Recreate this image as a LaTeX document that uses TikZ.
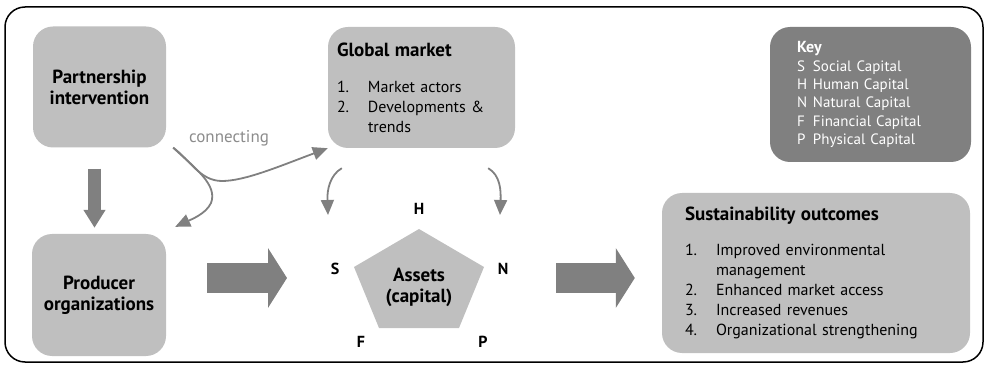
\documentclass[tikz,border=0pt]{standalone}
\usepackage{fontspec}
\setmainfont{PT Sans}
\usetikzlibrary{arrows.meta}

\definecolor{boxgray}{gray}{0.75}
\definecolor{keygray}{gray}{0.5}
\definecolor{arrowgray}{gray}{0.5}
\definecolor{labelgray}{gray}{0.55}

\newcommand{\numitem}[1]{\makebox[31pt][l]{#1}}
\newcommand{\keyitem}[2]{\makebox[16pt][l]{#1}#2}

\begin{document}
\begin{tikzpicture}[x=1pt,y=-1pt,
    box/.style={fill=boxgray,rounded corners=20pt,inner sep=0pt},
    title/.style={font=\bfseries\fontsize{19}{21}\selectfont},
    listbox/.style={box,align=left,font=\fontsize{16}{20}\selectfont},
    capletter/.style={font=\bfseries\fontsize{16}{18}\selectfont},
    bigarrow/.style={draw=arrowgray,line width=30pt,-{Triangle[length=19pt,width=59pt]}},
    flow/.style={draw=arrowgray,line width=1.8pt,-{Triangle[length=15pt,width=13pt]}}]
  \useasboundingbox (0,0) rectangle (988,366);
  \draw[line width=1.5pt,rounded corners=20pt] (5,7) rectangle (983,362);

  % boxes
  \node[box,title,align=center,minimum width=133pt,minimum height=121pt] (part) at (99.5,87) {Partnership\\intervention};
  \node[box,title,align=center,minimum width=134pt,minimum height=122pt] (prod) at (99,295) {Producer\\organizations};
  \node[listbox,minimum width=187pt,minimum height=121pt,text width=169pt,inner xsep=9pt] (gm) at (421.5,87.5)
    {{\bfseries\fontsize{19}{20}\selectfont Global market}\\[16pt]
     \numitem{1.}Market actors\\
     \numitem{2.}Developments \&\\
     \hspace*{31pt}trends};
  \node[listbox,minimum width=308pt,minimum height=160pt,text width=262pt,inner xsep=23pt] (sust) at (816,273)
    {{\bfseries\fontsize{19}{20}\selectfont Sustainability outcomes}\\[15pt]
     \numitem{1.}Improved environmental\\
     \hspace*{31pt}management\\
     \numitem{2.}Enhanced market access\\
     \numitem{3.}Increased revenues\\
     \numitem{4.}Organizational strengthening};
  \node[box,fill=keygray,text=white,align=left,font=\fontsize{15}{18.3}\selectfont,
        minimum width=201pt,minimum height=135pt,text width=147pt,inner xsep=27pt] (key) at (870.5,94.5)
    {{\bfseries\fontsize{16}{18.3}\selectfont Key}\\
     \keyitem{S}{Social Capital}\\
     \keyitem{H}{Human Capital}\\
     \keyitem{N}{Natural Capital}\\
     \keyitem{F}{Financial Capital}\\
     \keyitem{P}{Physical Capital}};

  % assets pentagon
  \coordinate (vH) at (419,229);
  \coordinate (vN) at (484,267);
  \coordinate (vP) at (459,328);
  \coordinate (vF) at (379,328);
  \coordinate (vS) at (354,267);
  \coordinate (ctr) at (419,278);
  \fill[boxgray] (vH) -- (vN) -- (vP) -- (vF) -- (vS) -- cycle;
  \node[title,align=center] (assets) at (419,287) {Assets\\(capital)};
  \node[capletter] (lH) at (419,209) {H};
  \node[capletter] (lS) at (335,269) {S};
  \node[capletter] (lN) at (503,269) {N};
  \node[capletter] (lF) at (361,342) {F};
  \node[capletter] (lP) at (483,342) {P};

  % block arrows
  \draw[bigarrow,line width=13pt,-{Triangle[length=18pt,width=21pt]},shorten <=21pt,shorten >=6pt]
    ([xshift=-5pt]part.south) -- ([xshift=-5pt]part.south |- prod.north);
  \draw[bigarrow,shorten <=41pt,shorten >=67pt] (prod.east |- ctr) -- (vS |- ctr);
  \draw[bigarrow,shorten <=72pt,shorten >=27pt] (vN |- ctr) -- (sust.west |- ctr);

  % connecting
  \coordinate (conn) at ([xshift=7pt]part.south east);
  \coordinate (toprod) at ([xshift=9pt,yshift=7pt]prod.north east);
  \coordinate (inS) at (328,215);
  \coordinate (inN) at (500,215);
  \node[text=labelgray,font=\fontsize{17}{18}\selectfont] (conlbl) at (229,138) {connecting};
  \draw[flow] (conn) .. controls (190,160) and (200,181) .. (222,181)
    .. controls (245,181) and (280,166) .. (gm.south west);
  \draw[flow] (conn) .. controls (195,168) and (218,185) .. (211,203)
    .. controls (206,214) and (190,220) .. (toprod);
  \draw[flow] ([xshift=14pt,yshift=-20pt]gm.south west) .. controls +(-12,7) and +(-1,-25) .. (inS);
  \draw[flow] ([xshift=-27pt,yshift=-20pt]gm.south east) .. controls +(12,7) and +(1,-25) .. (inN);
\end{tikzpicture}
\end{document}
